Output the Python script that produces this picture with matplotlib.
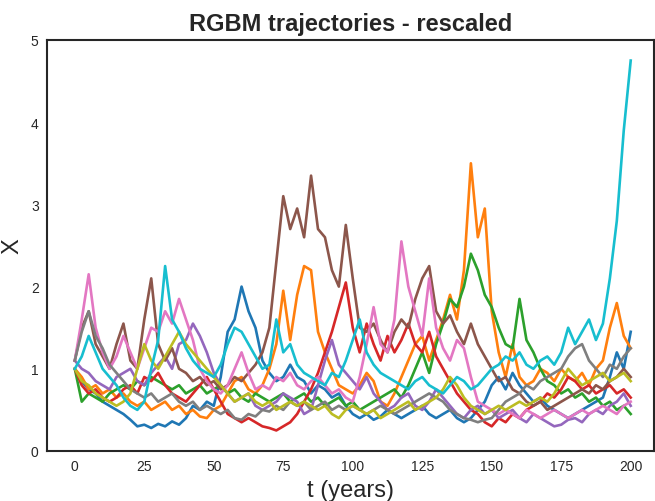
import numpy as np
import matplotlib.pyplot as plt

# time grid (years), values read every 2.5 years
t = np.linspace(0, 200, 81)

blue = [1.0, 0.85, 0.75, 0.7, 0.6, 0.55, 0.5, 0.45, 0.38, 0.3,
        0.32, 0.28, 0.33, 0.3, 0.36, 0.32, 0.4, 0.55, 0.5, 0.6,
        0.55, 0.9, 1.45, 1.6, 2.0, 1.7, 1.5, 1.1, 0.95, 0.85,
        0.9, 1.05, 0.9, 0.85, 0.7, 0.8, 0.75, 0.65, 0.7, 0.55,
        0.45, 0.4, 0.45, 0.38, 0.42, 0.5, 0.45, 0.4, 0.45, 0.5,
        0.55, 0.45, 0.4, 0.45, 0.5, 0.4, 0.35, 0.4, 0.5, 0.6,
        0.8, 0.9, 0.75, 0.95, 0.8, 0.7, 0.6, 0.65, 0.55, 0.5,
        0.45, 0.4, 0.45, 0.5, 0.55, 0.6, 0.65, 0.9, 1.2, 1.0, 1.45]
orange = [1.0, 0.9, 0.75, 0.8, 0.7, 0.75, 0.65, 0.7, 0.6, 0.55,
          0.6, 0.5, 0.55, 0.6, 0.5, 0.55, 0.45, 0.5, 0.42, 0.4,
          0.5, 0.55, 0.7, 0.85, 0.9, 0.75, 0.7, 0.8, 1.0, 1.3,
          1.95, 1.35, 1.9, 2.25, 2.2, 1.45, 1.2, 1.0, 0.8, 0.75,
          0.7, 0.8, 0.95, 0.85, 0.6, 0.55, 0.7, 0.9, 1.1, 1.3,
          1.4, 1.1, 1.35, 1.6, 1.9, 1.6, 2.2, 3.5, 2.6, 2.95,
          1.7, 1.2, 0.9, 1.3, 0.9, 0.8, 0.85, 1.0, 0.95, 0.85,
          1.0, 0.9, 0.85, 0.95, 0.8, 1.0, 1.1, 1.5, 1.8, 1.4, 1.25]
green = [1.0, 0.6, 0.7, 0.65, 0.6, 0.7, 0.75, 0.8, 0.75, 0.85,
         0.8, 0.9, 0.85, 0.8, 0.75, 0.8, 0.7, 0.75, 0.8, 0.7,
         0.75, 0.8, 0.7, 0.75, 0.65, 0.6, 0.7, 0.65, 0.6, 0.65,
         0.7, 0.6, 0.65, 0.7, 0.6, 0.65, 0.55, 0.6, 0.65, 0.55,
         0.6, 0.5, 0.55, 0.6, 0.65, 0.7, 0.75, 0.65, 0.8, 1.0,
         1.2, 0.95, 1.3, 1.55, 1.85, 1.75, 2.0, 2.4, 2.2, 1.9,
         1.75, 1.5, 1.3, 1.25, 1.85, 1.35, 1.2, 1.0, 0.85, 0.8,
         0.7, 0.75, 0.65, 0.7, 0.6, 0.65, 0.55, 0.6, 0.5, 0.55, 0.45]
red = [1.0, 0.8, 0.7, 0.75, 0.65, 0.6, 0.65, 0.75, 0.8, 0.7,
       0.9, 0.85, 0.95, 0.8, 0.7, 0.65, 0.6, 0.7, 0.8, 0.9,
       0.75, 0.6, 0.45, 0.4, 0.35, 0.4, 0.35, 0.3, 0.28, 0.25,
       0.3, 0.35, 0.45, 0.6, 0.75, 0.95, 1.2, 1.45, 1.75, 2.05,
       1.5, 1.2, 1.55, 1.3, 1.1, 1.4, 1.2, 1.35, 1.55, 1.3,
       1.2, 1.45, 1.15, 1.0, 0.85, 0.7, 0.6, 0.5, 0.45, 0.35,
       0.3, 0.4, 0.35, 0.45, 0.4, 0.5, 0.55, 0.6, 0.7, 0.65,
       0.75, 0.9, 0.85, 0.75, 0.8, 0.7, 0.75, 0.8, 0.7, 0.75, 0.65]
purple = [1.1, 1.0, 0.95, 0.85, 0.8, 0.75, 0.9, 0.95, 1.0, 0.85,
          0.8, 0.95, 1.05, 1.15, 1.0, 1.3, 1.35, 1.55, 1.4, 1.2,
          0.95, 0.8, 0.7, 0.6, 0.65, 0.7, 0.55, 0.5, 0.55, 0.6,
          0.7, 0.65, 0.6, 0.45, 0.5, 0.8, 1.1, 1.35, 1.05, 0.95,
          0.85, 0.75, 0.9, 0.7, 0.6, 0.5, 0.55, 0.65, 0.7, 0.55,
          0.5, 0.6, 0.75, 0.65, 0.55, 0.45, 0.4, 0.5, 0.55, 0.45,
          0.5, 0.4, 0.45, 0.5, 0.4, 0.35, 0.45, 0.4, 0.35, 0.3,
          0.32, 0.38, 0.4, 0.35, 0.45, 0.5, 0.45, 0.55, 0.6, 0.7, 0.55]
brown = [1.1, 1.5, 1.7, 1.3, 1.15, 1.0, 1.3, 1.55, 1.1, 1.0,
         1.6, 2.1, 1.3, 1.1, 1.25, 1.0, 0.95, 0.85, 0.9, 0.8,
         0.85, 0.75, 0.8, 0.9, 0.85, 0.95, 1.05, 1.2, 1.5, 2.3,
         3.1, 2.7, 2.95, 2.6, 3.35, 2.7, 2.6, 2.2, 2.0, 2.75,
         2.1, 1.5, 1.45, 1.55, 1.35, 1.2, 1.45, 1.6, 1.5, 1.85,
         2.1, 2.25, 1.7, 1.55, 1.65, 1.45, 1.3, 1.55, 1.3, 1.15,
         1.0, 0.85, 0.9, 0.75, 0.7, 0.6, 0.55, 0.6, 0.5, 0.55,
         0.6, 0.65, 0.7, 0.75, 0.7, 0.8, 0.75, 0.85, 0.9, 1.0, 0.9]
pink = [1.1, 1.6, 2.15, 1.5, 1.2, 1.0, 1.15, 1.4, 1.2, 1.0,
        1.25, 1.5, 1.45, 1.7, 1.55, 1.85, 1.6, 1.35, 1.0, 0.85,
        0.75, 0.7, 0.8, 1.0, 1.2, 0.95, 0.75, 0.8, 0.75, 0.9,
        0.85, 0.95, 0.8, 0.75, 0.85, 0.9, 0.8, 0.7, 0.75, 0.65,
        0.6, 0.9, 1.3, 1.75, 1.3, 1.2, 1.6, 2.55, 2.0, 1.7,
        1.4, 2.1, 1.5, 1.25, 1.1, 1.35, 1.25, 0.9, 0.6, 0.55,
        0.5, 0.45, 0.5, 0.45, 0.4, 0.5, 0.45, 0.4, 0.45, 0.5,
        0.45, 0.4, 0.45, 0.5, 0.45, 0.5, 0.55, 0.5, 0.45, 0.55, 0.6]
gray = [1.1, 1.45, 1.7, 1.4, 1.25, 1.05, 0.95, 0.85, 0.75, 0.7,
        0.65, 0.7, 0.6, 0.65, 0.7, 0.6, 0.55, 0.6, 0.5, 0.55,
        0.5, 0.45, 0.5, 0.4, 0.38, 0.45, 0.42, 0.5, 0.48, 0.55,
        0.5, 0.6, 0.55, 0.6, 0.5, 0.55, 0.6, 0.5, 0.55, 0.5,
        0.55, 0.5, 0.45, 0.5, 0.55, 0.5, 0.45, 0.5, 0.55, 0.6,
        0.65, 0.7, 0.65, 0.6, 0.5, 0.45, 0.4, 0.38, 0.35, 0.38,
        0.4, 0.5, 0.6, 0.65, 0.7, 0.8, 0.75, 0.85, 0.9, 0.95,
        1.0, 1.15, 1.25, 1.3, 1.1, 1.0, 0.9, 1.05, 1.0, 1.15, 1.25]
olive = [1.0, 0.85, 0.8, 0.7, 0.65, 0.6, 0.55, 0.6, 0.7, 1.0,
         1.3, 1.1, 1.0, 1.15, 1.3, 1.45, 1.3, 1.2, 1.1, 1.0,
         0.9, 0.8, 0.7, 0.6, 0.65, 0.7, 0.6, 0.55, 0.6, 0.5,
         0.55, 0.6, 0.55, 0.6, 0.55, 0.5, 0.55, 0.45, 0.4, 0.5,
         0.55, 0.5, 0.45, 0.5, 0.4, 0.45, 0.5, 0.55, 0.6, 0.5,
         0.55, 0.6, 0.65, 0.75, 0.9, 0.8, 0.65, 0.55, 0.5, 0.45,
         0.5, 0.55, 0.5, 0.55, 0.6, 0.55, 0.6, 0.65, 0.6, 0.7,
         0.85, 1.0, 0.9, 0.8, 0.85, 0.9, 0.95, 0.85, 0.9, 0.95, 0.85]
cyan = [1.0, 1.15, 1.4, 1.2, 1.0, 0.9, 0.8, 0.65, 0.55, 0.5,
        0.6, 1.0, 1.35, 2.25, 1.6, 1.45, 1.25, 1.1, 1.0, 0.95,
        0.9, 1.05, 1.3, 1.5, 1.45, 1.3, 1.15, 1.0, 1.05, 1.6,
        1.2, 1.3, 1.05, 0.95, 0.9, 0.85, 0.8, 0.95, 0.9, 1.1,
        1.35, 1.6, 1.2, 1.05, 0.95, 0.9, 0.85, 0.8, 0.75, 0.85,
        0.9, 0.8, 0.75, 0.7, 0.8, 0.9, 0.85, 0.75, 0.8, 0.9,
        1.0, 1.05, 1.15, 1.1, 1.2, 1.05, 1.0, 1.1, 1.15, 1.05,
        1.2, 1.5, 1.3, 1.45, 1.6, 1.35, 1.55, 2.1, 2.8, 3.9, 4.75]

series = [blue, orange, green, red, purple, brown, pink, gray, olive, cyan]

plt.rcParams['font.family'] = ['Liberation Sans', 'DejaVu Sans']

fig = plt.figure(figsize=(6.55, 5.02), dpi=100)
ax = fig.add_axes([47 / 655, 50 / 502, 606.5 / 655, 411 / 502])

for i, ys in enumerate(series):
    ax.plot(t, ys, color=f'C{i}', linewidth=1.9)

ax.set_xlim(-10, 208.2)
ax.set_ylim(0, 5)
ax.set_xticks([0, 25, 50, 75, 100, 125, 150, 175, 200])
ax.set_yticks([0, 1, 2, 3, 4, 5])
ax.tick_params(length=0, labelsize=10, labelcolor='#262626', pad=6)
for sp in ax.spines.values():
    sp.set_color('#262626')
    sp.set_linewidth(1.5)

ax.set_title("RGBM trajectories - rescaled", fontsize=17, fontweight='bold',
             color='#262626', pad=7)
ax.set_xlabel("t (years)", fontsize=17, color='#262626', labelpad=4)
ax.set_ylabel("X", fontsize=17, color='#262626', labelpad=5)

fig.savefig("out.png", dpi=100)
